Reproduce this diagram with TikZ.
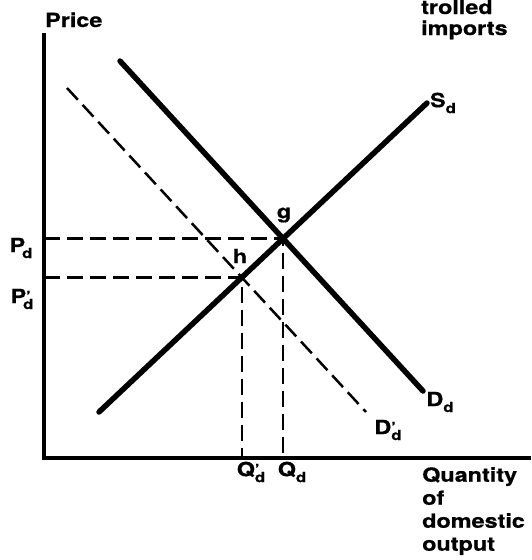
\documentclass[tikz,border=0pt]{standalone}
\usepackage{fontspec}
\setmainfont[FakeStretch=1.2,FakeBold=0.6]{TeX Gyre Heros}
\usetikzlibrary{intersections}
\newcommand{\sbs}[1]{\raisebox{-6pt}{\fontsize{14}{14}\selectfont #1}}
\newcommand{\prm}{\rlap{\raisebox{2pt}{\fontsize{14}{14}\selectfont ’}}}
\newcommand{\lbl}[2]{#1\sbs{#2}}
\newcommand{\lblp}[2]{#1\prm\sbs{#2}}
\newcommand{\lblP}[2]{#1\kern-3pt\sbs{#2}}
\newcommand{\lblPp}[2]{#1\prm\kern-3pt\sbs{#2}}
\begin{document}
\begin{tikzpicture}[x=1pt,y=-1pt,
  axis/.style={line width=4.5pt},
  curve/.style={line width=5.5pt, line cap=round},
  guide/.style={line width=2.5pt, dash pattern=on 16pt off 7pt},
  lab/.style={font=\fontsize{19.5}{23}\selectfont\bfseries, inner sep=0pt}]
\useasboundingbox (0,0) rectangle (531,560);
\coordinate (O) at (44,458);
\coordinate (ytop) at (44,33);
\coordinate (xend) at (531,458);
\coordinate (s0) at (99,412);
\coordinate (s1) at (427,103);
\coordinate (d0) at (120,61);
\coordinate (d1) at (423,391);
\coordinate (e0) at (67,88);
\coordinate (e1) at (366,412);
\draw[axis] (ytop) -- (O) -- (xend);
\draw[curve, name path=S] (s0) -- (s1);
\draw[curve, name path=D] (d0) -- (d1);
\draw[guide, name path=Dp] (e0) -- (e1);
\path[name intersections={of=S and D, by=g}];
\path[name intersections={of=S and Dp, by=h}];
\draw[guide] (O |- g) -- (g) -- (g |- O);
\draw[guide] (O |- h) -- (h) -- (h |- O);
\node[lab, anchor=base west] (price) at (45,27) {Price};
\node[lab, anchor=base west] (trl) at (421,14) {trolled};
\node[lab, anchor=base west] (imp) at (421,35) {imports};
\node[lab] (Pd) at (21,248) {\lblP{P}{d}};
\node[lab] (Ppd) at (22,299) {\lblPp{P}{d}};
\node[lab] (gl) at (284,215) {g};
\node[lab] (hl) at (240,256) {h};
\node[lab] (Sl) at (443,103) {\lbl{S}{d}};
\node[lab] (Dl) at (440,402) {\lbl{D}{d}};
\node[lab] (Dpl) at (388,430) {\lblp{D}{d}};
\node[lab] (Qpl) at (251,472) {\lblp{Q}{d}};
\node[lab] (Ql) at (292,472) {\lbl{Q}{d}};
\node[lab, anchor=north west, align=left] (qty) at (422,467) {Quantity\\of\\domestic\\output};
\end{tikzpicture}
\end{document}
